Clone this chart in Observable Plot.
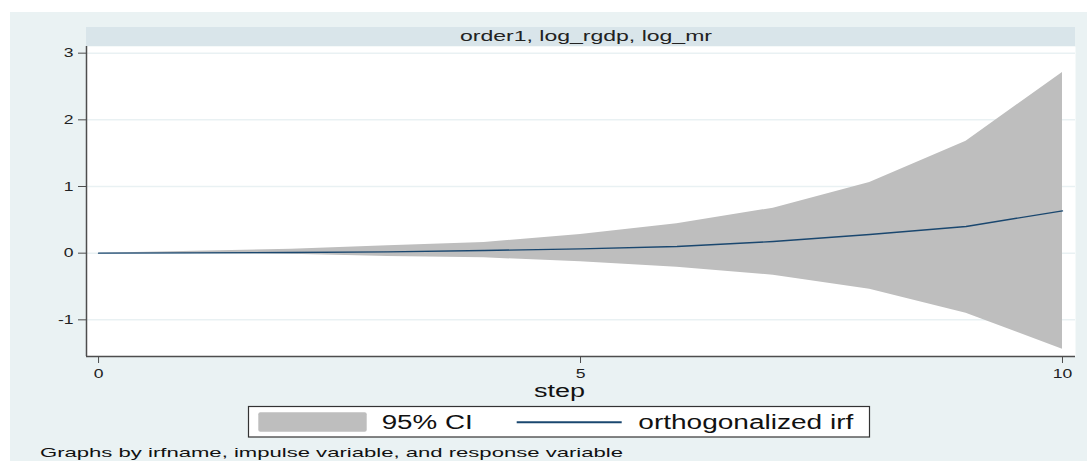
<!DOCTYPE html>
<html>
<head>
<meta charset="utf-8">
<script src="https://cdn.jsdelivr.net/npm/d3@7"></script>
<script src="https://cdn.jsdelivr.net/npm/@observablehq/plot@0.6"></script>
<style>
  html, body { margin: 0; padding: 0; background: #ffffff; }
  #wrap { position: relative; width: 1089px; height: 461px; overflow: hidden; font-family: 'Liberation Sans', Arial, sans-serif; }
  #bg { position: absolute; left: 10px; top: 12px; width: 1077px; height: 449px; background: #eaf2f3; }
  #plot { position: absolute; left: 0; top: 0; }
  #overlay { position: absolute; left: 0; top: 0; pointer-events: none; }
</style>
</head>
<body>
<div id="wrap">
  <div id="bg"></div>
  <div id="plot"></div>
  <svg id="overlay" width="1089" height="461"></svg>
</div>
<script>
// ---- data ----
const steps   = [0, 1, 2, 3, 4, 5, 6, 7, 8, 9, 10];
const irf     = [0, 0.005, 0.01, 0.02, 0.04, 0.065, 0.10, 0.175, 0.28, 0.40, 0.635];
const ciUpper = [0, 0.03, 0.06, 0.11, 0.16, 0.28, 0.44, 0.675, 1.06, 1.68, 2.71];
const ciLower = [0, -0.005, -0.015, -0.05, -0.07, -0.13, -0.21, -0.33, -0.54, -0.90, -1.44];
const xTicks = [0, 5, 10];
const yTicks = [-1, 0, 1, 2, 3];
const panelTitle = "order1, log_rgdp, log_mr";
const xLabel = "step";
const legendLabels = ["95% CI", "orthogonalized irf"];
const caption = "Graphs by irfname, impulse variable, and response variable";

const xDomain = [-0.125, 10.135];
const yDomain = [-1.55, 3.1];

const data = steps.map((s, i) => ({step: s, irf: irf[i], lower: ciLower[i], upper: ciUpper[i]}));

const bandColor = "#bebebe";
const lineColor = "#1a476f";
const axisColor = "#4d4d4d";

const chart = Plot.plot({
  width: 1089,
  height: 400,
  marginLeft: 86,
  marginRight: 14,
  marginTop: 46,
  marginBottom: 44,
  x: {domain: xDomain},
  y: {domain: yDomain},
  style: {background: "transparent", fontFamily: "'Liberation Sans', Arial, sans-serif", fontSize: "13px", color: "#222", overflow: "visible"},
  marks: [
    Plot.frame({fill: "white", stroke: null}),
    Plot.gridY(yTicks, {stroke: "#e9f1f3", strokeOpacity: 1, strokeWidth: 1.5}),
    Plot.areaY(data, {x: "step", y1: "lower", y2: "upper", fill: bandColor, curve: "linear"}),
    Plot.lineY(data, {x: "step", y: "irf", stroke: lineColor, strokeWidth: 1.4}),
    Plot.ruleX([xDomain[0]], {stroke: axisColor, strokeWidth: 1.5}),
    Plot.ruleY([yDomain[0]], {stroke: axisColor, strokeWidth: 1.5}),
    Plot.axisY(yTicks, {tickSize: 8, tickPadding: 5, tickFormat: d => String(d), label: null, stroke: axisColor, fontSize: 13}),
    Plot.axisX(xTicks, {tickSize: 7, tickPadding: 5, tickFormat: d => String(d), label: null, stroke: axisColor, fontSize: 13})
  ]
});
document.getElementById("plot").appendChild(chart);

// widen tick label glyphs horizontally, like the reference rendering
chart.querySelectorAll("text").forEach(t => {
  const x = t.getAttribute("x");
  let tr = t.getAttribute("transform") || "";
  if (x !== null && !isNaN(+x)) { tr += ` translate(${+x},0)`; t.removeAttribute("x"); }
  t.setAttribute("transform", tr + " scale(1.35,1)");
});

// ---- overlay: panel strip, axis title, legend, caption ----
const ov = d3.select("#overlay");
const font = "'Liberation Sans', Arial, sans-serif";

ov.append("rect").attr("x", 86).attr("y", 27).attr("width", 989).attr("height", 19).attr("fill", "#d9e5ea");
ov.append("text").attr("x", 460).attr("y", 41).attr("font-family", font).attr("font-size", 14.5)
  .attr("fill", "#222").attr("textLength", 252).attr("lengthAdjust", "spacingAndGlyphs").text(panelTitle);

ov.append("text").attr("x", 534).attr("y", 397).attr("font-family", font).attr("font-size", 18)
  .attr("fill", "#111").attr("textLength", 51).attr("lengthAdjust", "spacingAndGlyphs").text(xLabel);

ov.append("rect").attr("x", 248.5).attr("y", 406.5).attr("width", 621).attr("height", 30.5)
  .attr("fill", "white").attr("stroke", "#333").attr("stroke-width", 1.2);
ov.append("rect").attr("x", 258.3).attr("y", 412.3).attr("width", 108.4).attr("height", 19.4)
  .attr("rx", 2).attr("fill", bandColor);
ov.append("text").attr("x", 381.7).attr("y", 429.3).attr("font-family", font).attr("font-size", 20)
  .attr("fill", "#111").attr("textLength", 91).attr("lengthAdjust", "spacingAndGlyphs").text(legendLabels[0]);
ov.append("line").attr("x1", 516.7).attr("x2", 621.7).attr("y1", 422.3).attr("y2", 422.3)
  .attr("stroke", lineColor).attr("stroke-width", 2);
ov.append("text").attr("x", 638.3).attr("y", 429.3).attr("font-family", font).attr("font-size", 20)
  .attr("fill", "#111").attr("textLength", 215).attr("lengthAdjust", "spacingAndGlyphs").text(legendLabels[1]);

ov.append("text").attr("x", 40).attr("y", 457.3).attr("font-family", font).attr("font-size", 13)
  .attr("fill", "#111").attr("textLength", 583).attr("lengthAdjust", "spacingAndGlyphs").text(caption);
</script>
</body>
</html>
